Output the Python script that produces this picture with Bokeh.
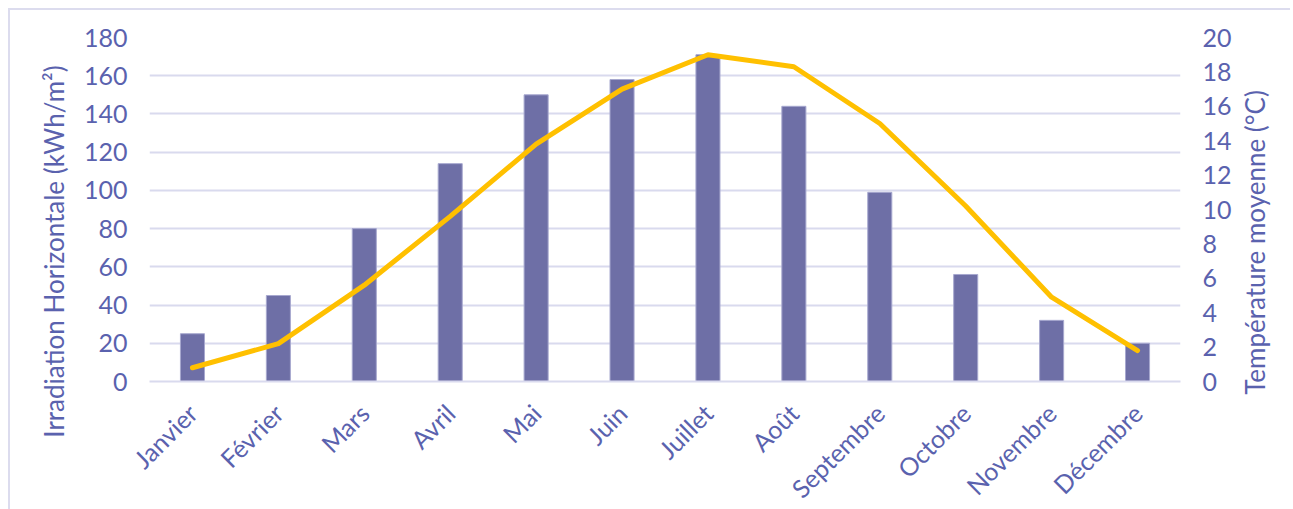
from bokeh.plotting import figure
from bokeh.models import Range1d, LinearAxis, FixedTicker, FactorRange
from bokeh.layouts import row
from bokeh.core.properties import value
from bokeh.embed import file_html
from bokeh.resources import INLINE
import math

months = ["Janvier", "Février", "Mars", "Avril", "Mai", "Juin", "Juillet",
          "Août", "Septembre", "Octobre", "Novembre", "Décembre"]
irradiation = [25, 45, 80, 114, 150, 158, 171, 144, 99, 56, 32, 20]
temperature = [0.8, 2.2, 5.6, 9.6, 13.8, 17.0, 19.0, 18.3, 15.0, 10.2, 4.9, 1.8]
left_ticks = [0, 20, 40, 60, 80, 100, 120, 140, 160, 180]
right_ticks = [0, 2, 4, 6, 8, 10, 12, 14, 16, 18, 20]
left_title = "Irradiation Horizontale (kWh/m²)"
right_title = "Température moyenne (°C)"

TXT = "#5A62AE"
GRID = "#D9DAEE"
FONT = "Lato"
H = 498


def title_fig(w, cx, cy, txt):
    f = figure(width=w, height=H, x_range=Range1d(0, w), y_range=Range1d(H, 0),
               x_axis_location=None, y_axis_location=None,
               output_backend="svg", toolbar_location=None,
               min_border=0, min_border_left=0, min_border_right=0,
               min_border_top=0, min_border_bottom=0, frame_align=False)
    f.outline_line_color = None
    f.grid.visible = False
    f.text(x=[cx], y=[cy], text=[txt], angle=math.pi / 2, text_align="center",
           text_baseline="middle", text_color=TXT, text_font=value(FONT),
           text_font_size="26px")
    return f


lt = title_fig(70, 43.5, 241, left_title)
rt = title_fig(56, 20, 232, right_title)

p = figure(x_range=FactorRange(*months), y_range=Range1d(0, 180),
           frame_width=1031, frame_height=344,
           output_backend="svg", toolbar_location=None,
           min_border_left=67, min_border_right=52, min_border_top=27,
           min_border_bottom=127, frame_align=False)
p.outline_line_color = None
p.extra_y_ranges = {"temp": Range1d(0, 20)}

p.vbar(x=months, top=irradiation, width=0.28, fill_color="#6E6FA6",
       line_color="#A7A8CF", line_width=1)
p.line(x=months, y=temperature, y_range_name="temp", line_color="#FFC000",
       line_width=5, line_cap="round", line_join="round")

p.ygrid.grid_line_color = GRID
p.ygrid.grid_line_width = 2
p.ygrid.ticker = FixedTicker(ticks=left_ticks)
p.xgrid.grid_line_color = None

ya = p.yaxis[0]
ya.ticker = FixedTicker(ticks=left_ticks)

ra = LinearAxis(y_range_name="temp", ticker=FixedTicker(ticks=right_ticks))
p.add_layout(ra, "right")

for ax in (ya, ra):
    ax.axis_line_color = None
    ax.major_tick_line_color = None
    ax.minor_tick_line_color = None
    ax.major_tick_out = 0
    ax.major_tick_in = 0
    ax.minor_tick_out = 0
    ax.major_label_text_color = TXT
    ax.major_label_text_font = FONT
    ax.major_label_text_font_size = "25px"
ya.major_label_standoff = 22
ra.major_label_standoff = 22

xa = p.xaxis[0]
xa.axis_line_color = GRID
xa.axis_line_width = 2
xa.major_tick_line_color = None
xa.minor_tick_line_color = None
xa.major_tick_out = 0
xa.major_tick_in = 0
xa.major_label_orientation = math.pi / 4
xa.major_label_text_color = TXT
xa.major_label_text_font = FONT
xa.major_label_text_font_size = "25px"
xa.major_label_standoff = 27

layout = row(lt, p, rt, spacing=0,
             styles={"margin-left": "8px", "margin-top": "8px",
                     "border-top": "2px solid #DCDCEE", "border-left": "2px solid #DCDCEE",
                     "border-right": "none", "border-bottom": "none"})

open("out.html", "w").write(file_html(layout, INLINE))
